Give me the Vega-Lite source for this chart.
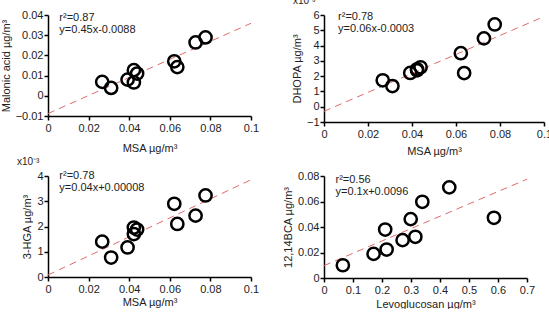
{
  "$schema": "https://vega.github.io/schema/vega-lite/v6.json",
  "padding": {"left": 0, "top": -4, "right": 0, "bottom": 0},
  "background": "white",
  "columns": 2,
  "bounds": "flush",
  "spacing": {"column": 73, "row": 54},
  "datasets": {
    "samples": [
      {"msa": 0.0267, "malonic": 0.0069, "dhopa": 1.73, "hga": 1.40},
      {"msa": 0.0311, "malonic": 0.0039, "dhopa": 1.35, "hga": 0.77},
      {"msa": 0.0392, "malonic": 0.0080, "dhopa": 2.21, "hga": 1.17},
      {"msa": 0.0423, "malonic": 0.0127, "dhopa": 2.45, "hga": 1.96},
      {"msa": 0.0423, "malonic": 0.0066, "dhopa": 2.38, "hga": 1.70},
      {"msa": 0.0439, "malonic": 0.0110, "dhopa": 2.58, "hga": 1.88},
      {"msa": 0.0622, "malonic": 0.0171, "dhopa": 3.50, "hga": 2.90},
      {"msa": 0.0637, "malonic": 0.0142, "dhopa": 2.20, "hga": 2.10},
      {"msa": 0.0727, "malonic": 0.0264, "dhopa": 4.47, "hga": 2.43},
      {"msa": 0.0776, "malonic": 0.0289, "dhopa": 5.38, "hga": 3.23}
    ],
    "bca": [
      {"levo": 0.065, "bca": 0.0100},
      {"levo": 0.171, "bca": 0.0189},
      {"levo": 0.211, "bca": 0.0380},
      {"levo": 0.216, "bca": 0.0223},
      {"levo": 0.271, "bca": 0.0297},
      {"levo": 0.299, "bca": 0.0462},
      {"levo": 0.315, "bca": 0.0323},
      {"levo": 0.339, "bca": 0.0598},
      {"levo": 0.432, "bca": 0.0711},
      {"levo": 0.586, "bca": 0.0472}
    ],
    "fit_mal": [{"x": 0, "y": -0.0088}, {"x": 0.1, "y": 0.0359}],
    "fit_dhopa": [{"x": 0, "y": -0.3}, {"x": 0.1, "y": 5.9}],
    "fit_hga": [{"x": 0, "y": 0.08}, {"x": 0.1, "y": 3.85}],
    "fit_bca": [{"x": 0, "y": 0.0097}, {"x": 0.7, "y": 0.0775}],
    "ann": [
      {"panel": "mal", "lines": ["r²=0.87", "y=0.45x-0.0088"]},
      {"panel": "dhopa", "lines": ["r²=0.78", "y=0.06x-0.0003"]},
      {"panel": "hga", "lines": ["r²=0.78", "y=0.04x+0.00008"]},
      {"panel": "bca", "lines": ["r²=0.56", "y=0.1x+0.0096"]}
    ]
  },
  "concat": [
    {
      "width": 203, "height": 101,
      "layer": [
        {
          "data": {"name": "fit_mal"},
          "mark": {"type": "line", "color": "#e06a6a", "strokeWidth": 1, "strokeDash": [7, 5]},
          "encoding": {
            "x": {"field": "x", "type": "quantitative", "scale": {"domain": [0, 0.1], "nice": false, "zero": false},
                  "axis": {"values": [0, 0.02, 0.04, 0.06, 0.08, 0.1], "tickCount": 20, "format": "~f", "title": "MSA µg/m³", "titlePadding": 9}},
            "y": {"field": "y", "type": "quantitative", "scale": {"domain": [-0.01, 0.04], "nice": false, "zero": false},
                  "axis": {"values": [-0.01, 0, 0.01, 0.02, 0.03, 0.04], "tickCount": 20, "format": "~f", "title": "Malonic acid µg/m³"}}
          }
        },
        {
          "data": {"name": "samples"},
          "mark": {"type": "point", "filled": false, "color": "black", "size": 150, "strokeWidth": 2.5, "opacity": 1},
          "encoding": {
            "x": {"field": "msa", "type": "quantitative"},
            "y": {"field": "malonic", "type": "quantitative"}
          }
        },
        {
          "data": {"name": "ann"},
          "transform": [{"filter": "datum.panel == 'mal'"}],
          "mark": {"type": "text", "align": "left", "baseline": "top", "fontSize": 11, "lineHeight": 12, "color": "#222"},
          "encoding": {
            "x": {"datum": 0.0056},
            "y": {"datum": 0.0417},
            "text": {"field": "lines"}
          }
        }
      ]
    },
    {
      "width": 220, "height": 107,
      "title": {"text": "x10⁻³", "anchor": "start", "frame": "group", "dx": -31, "offset": 3, "fontSize": 10, "fontWeight": "normal", "color": "#222"},
      "layer": [
        {
          "data": {"name": "fit_dhopa"},
          "mark": {"type": "line", "color": "#e06a6a", "strokeWidth": 1, "strokeDash": [7, 5]},
          "encoding": {
            "x": {"field": "x", "type": "quantitative", "scale": {"domain": [0, 0.1], "nice": false, "zero": false},
                  "axis": {"values": [0, 0.02, 0.04, 0.06, 0.08, 0.1], "tickCount": 20, "format": "~f", "title": "MSA µg/m³", "titlePadding": 6}},
            "y": {"field": "y", "type": "quantitative", "scale": {"domain": [-1, 6], "nice": false, "zero": false},
                  "axis": {"values": [-1, 0, 1, 2, 3, 4, 5, 6], "tickCount": 20, "format": "~f", "title": "DHOPA µg/m³"}}
          }
        },
        {
          "data": {"name": "samples"},
          "mark": {"type": "point", "filled": false, "color": "black", "size": 150, "strokeWidth": 2.5, "opacity": 1},
          "encoding": {
            "x": {"field": "msa", "type": "quantitative"},
            "y": {"field": "dhopa", "type": "quantitative"}
          }
        },
        {
          "data": {"name": "ann"},
          "transform": [{"filter": "datum.panel == 'dhopa'"}],
          "mark": {"type": "text", "align": "left", "baseline": "top", "fontSize": 11, "lineHeight": 12, "color": "#222"},
          "encoding": {
            "x": {"datum": 0.0064},
            "y": {"datum": 6.25},
            "text": {"field": "lines"}
          }
        }
      ]
    },
    {
      "width": 203, "height": 101,
      "title": {"text": "x10⁻³", "anchor": "start", "frame": "group", "dx": -31, "offset": 3, "fontSize": 10, "fontWeight": "normal", "color": "#222"},
      "layer": [
        {
          "data": {"name": "fit_hga"},
          "mark": {"type": "line", "color": "#e06a6a", "strokeWidth": 1, "strokeDash": [7, 5]},
          "encoding": {
            "x": {"field": "x", "type": "quantitative", "scale": {"domain": [0, 0.1], "nice": false, "zero": false},
                  "axis": {"values": [0, 0.02, 0.04, 0.06, 0.08, 0.1], "tickCount": 20, "format": "~f", "title": "MSA µg/m³", "titlePadding": 2}},
            "y": {"field": "y", "type": "quantitative", "scale": {"domain": [0, 4], "nice": false, "zero": false},
                  "axis": {"values": [0, 1, 2, 3, 4], "tickCount": 20, "format": "~f", "title": "3-HGA µg/m³"}}
          }
        },
        {
          "data": {"name": "samples"},
          "mark": {"type": "point", "filled": false, "color": "black", "size": 150, "strokeWidth": 2.5, "opacity": 1},
          "encoding": {
            "x": {"field": "msa", "type": "quantitative"},
            "y": {"field": "hga", "type": "quantitative"}
          }
        },
        {
          "data": {"name": "ann"},
          "transform": [{"filter": "datum.panel == 'hga'"}],
          "mark": {"type": "text", "align": "left", "baseline": "top", "fontSize": 11, "lineHeight": 12, "color": "#222"},
          "encoding": {
            "x": {"datum": 0.0056},
            "y": {"datum": 4.25},
            "text": {"field": "lines"}
          }
        }
      ]
    },
    {
      "width": 203, "height": 102,
      "layer": [
        {
          "data": {"name": "fit_bca"},
          "mark": {"type": "line", "color": "#e06a6a", "strokeWidth": 1, "strokeDash": [7, 5]},
          "encoding": {
            "x": {"field": "x", "type": "quantitative", "scale": {"domain": [0, 0.7], "nice": false, "zero": false},
                  "axis": {"values": [0, 0.1, 0.2, 0.3, 0.4, 0.5, 0.6, 0.7], "tickCount": 20, "format": "~f", "title": "Levoglucosan µg/m³", "titlePadding": 3}},
            "y": {"field": "y", "type": "quantitative", "scale": {"domain": [0, 0.08], "nice": false, "zero": false},
                  "axis": {"values": [0, 0.02, 0.04, 0.06, 0.08], "tickCount": 20, "format": "~f", "title": "12,14BCA  µg/m³"}}
          }
        },
        {
          "data": {"name": "bca"},
          "mark": {"type": "point", "filled": false, "color": "black", "size": 150, "strokeWidth": 2.5, "opacity": 1},
          "encoding": {
            "x": {"field": "levo", "type": "quantitative"},
            "y": {"field": "bca", "type": "quantitative"}
          }
        },
        {
          "data": {"name": "ann"},
          "transform": [{"filter": "datum.panel == 'bca'"}],
          "mark": {"type": "text", "align": "left", "baseline": "top", "fontSize": 11, "lineHeight": 12, "color": "#222"},
          "encoding": {
            "x": {"datum": 0.0396},
            "y": {"datum": 0.0813},
            "text": {"field": "lines"}
          }
        }
      ]
    }
  ],
  "config": {
    "font": "Liberation Sans",
    "view": {"stroke": null},
    "axis": {
      "grid": false,
      "domainColor": "black",
      "domainWidth": 1.5,
      "tickColor": "black",
      "tickWidth": 1.5,
      "tickSize": 4,
      "labelPadding": 2,
      "labelColor": "#222",
      "titleColor": "#222",
      "labelFont": "Liberation Sans",
      "titleFont": "Liberation Sans",
      "labelFontSize": 11,
      "titleFontSize": 11,
      "titleFontWeight": "normal",
      "labelFlush": false,
      "labelOverlap": false
    },
    "axisY": {"titlePadding": 4, "labelPadding": 1},
    "title": {"font": "Liberation Sans"}
  }
}
